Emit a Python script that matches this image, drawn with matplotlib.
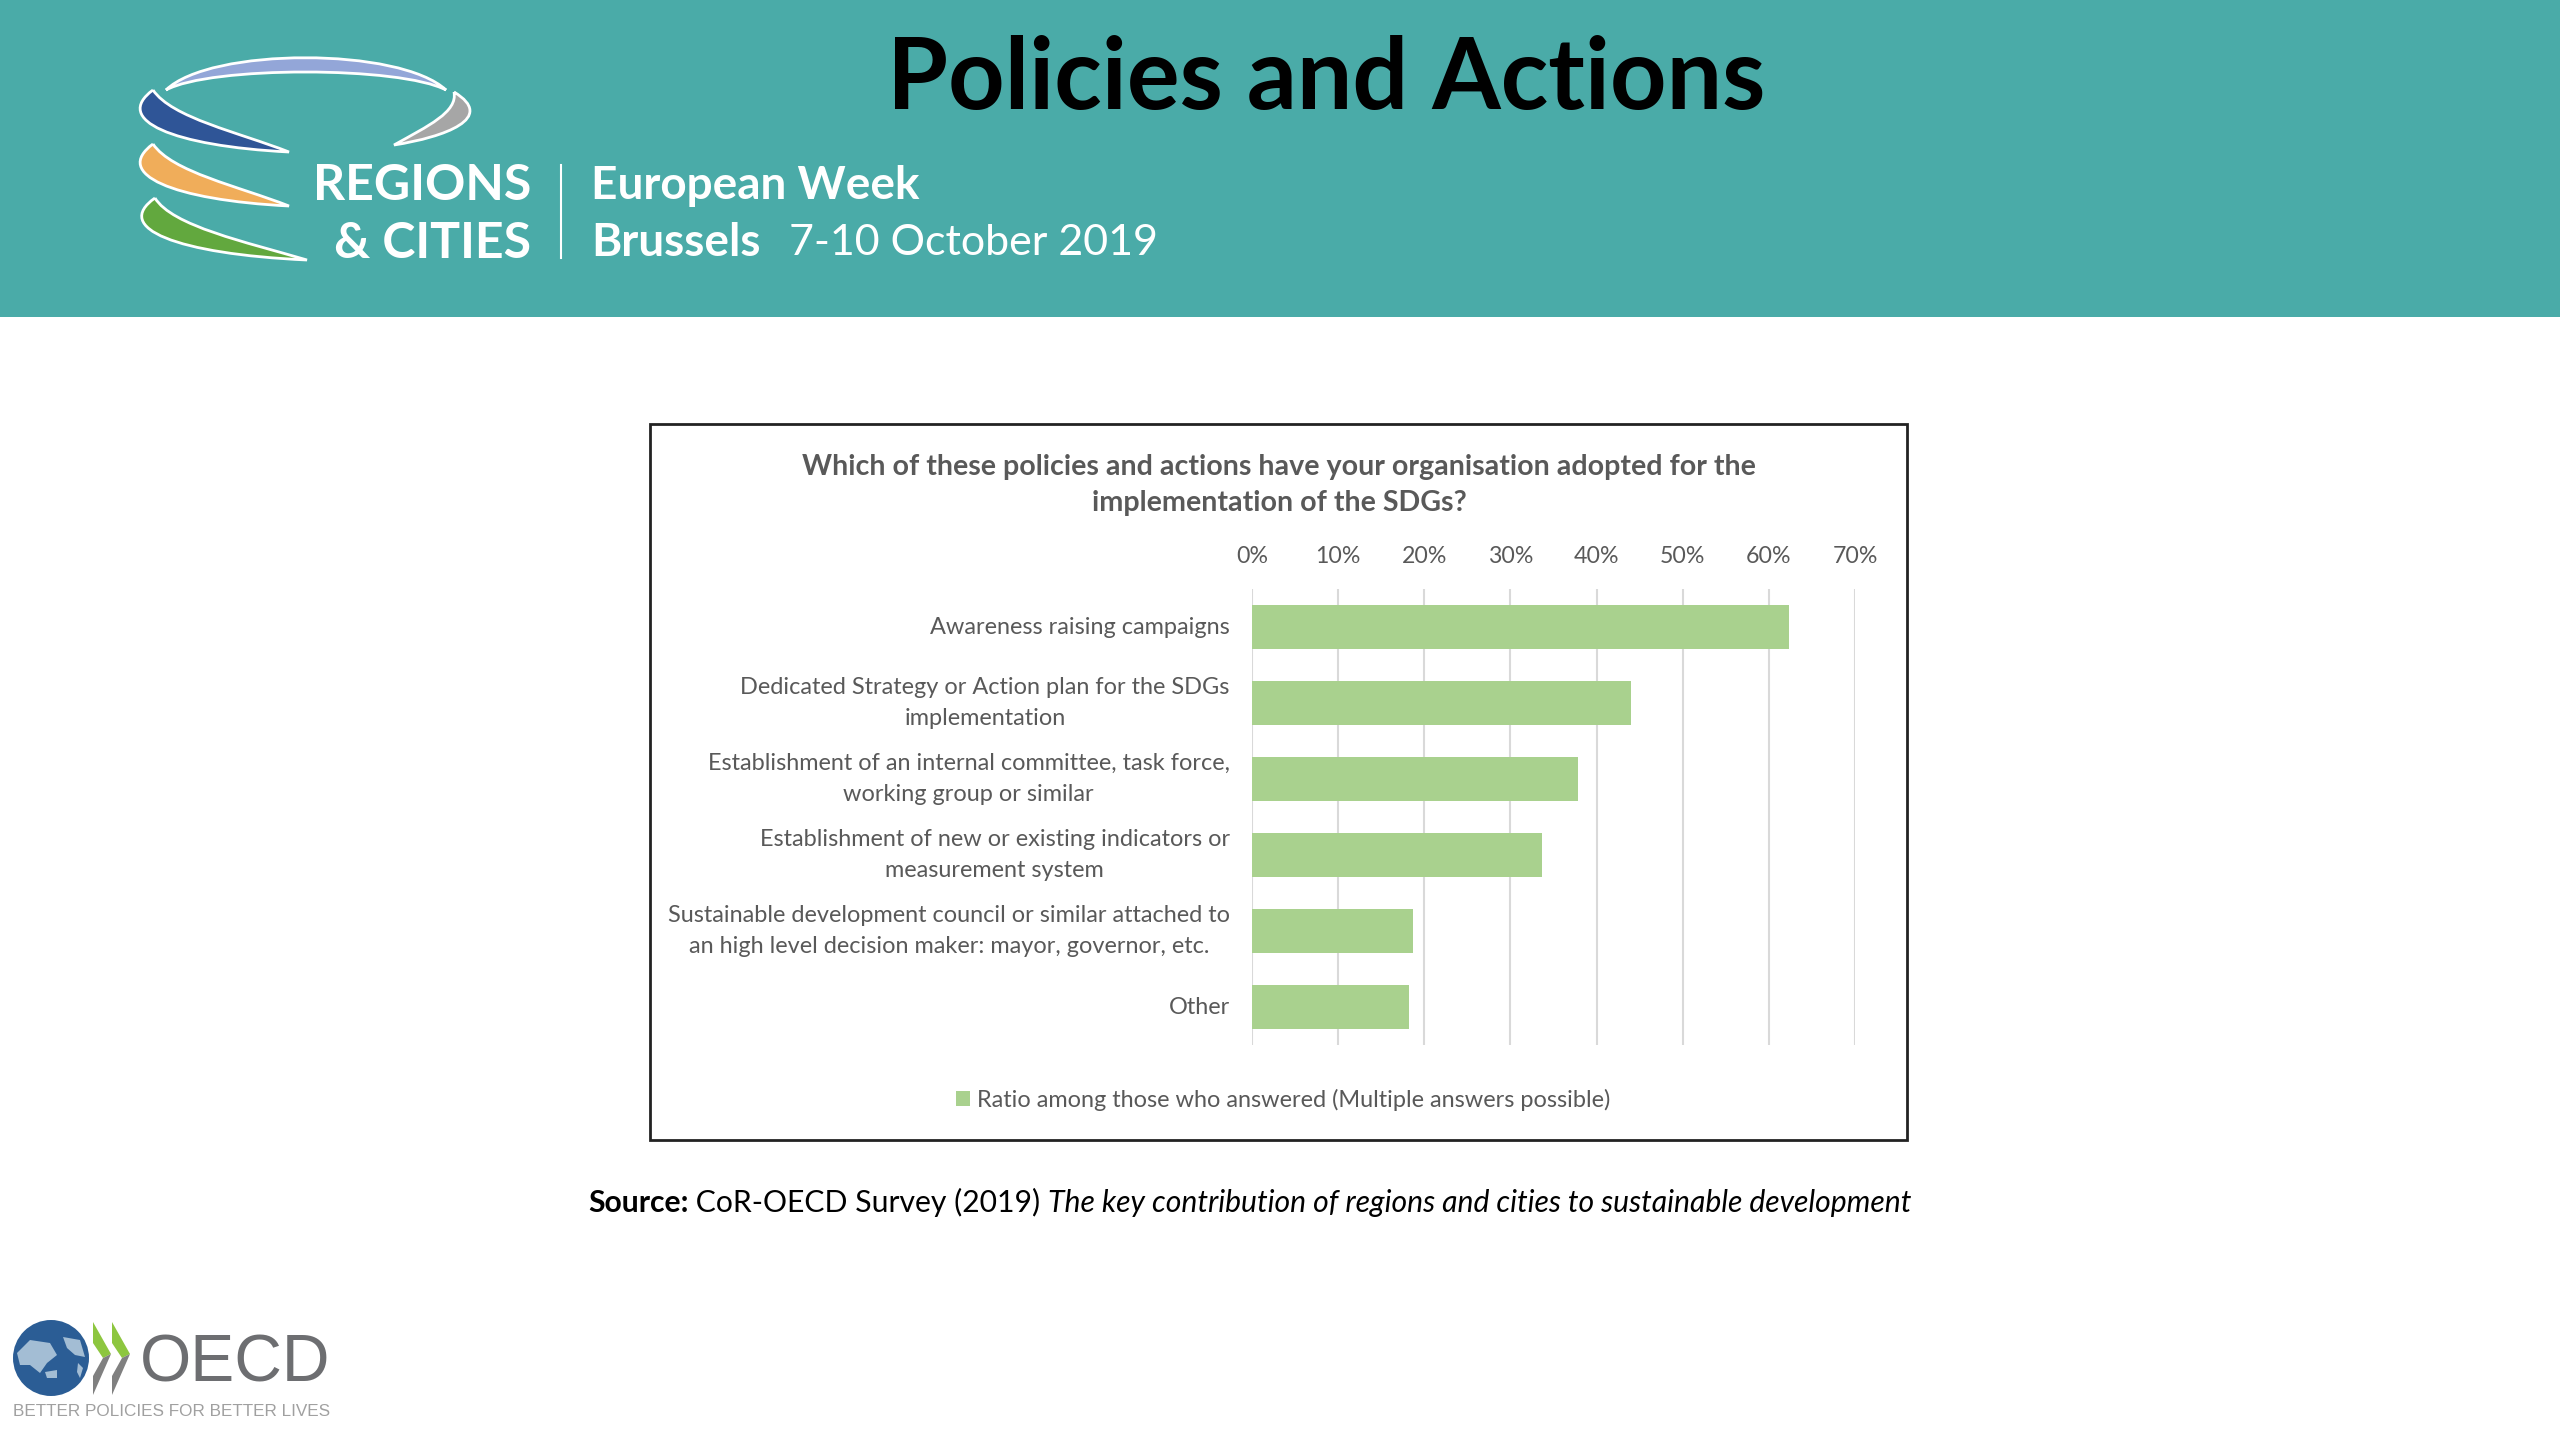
import numpy as np
import matplotlib
matplotlib.use('Agg')
import matplotlib.pyplot as plt
from matplotlib.patches import Rectangle, PathPatch, Polygon, Circle
from matplotlib.path import Path

plt.rcParams['font.family'] = ['Lato', 'DejaVu Sans']

# Chart data
categories = ["Awareness raising campaigns",
              "Dedicated Strategy or Action plan for the SDGs\nimplementation",
              "Establishment of an internal committee, task force,\nworking group or similar",
              "Establishment of new or existing indicators or\nmeasurement system",
              "Sustainable development council or similar attached to\nan high level decision maker: mayor, governor, etc.",
              "Other"]
ratio = [62.3, 44.0, 37.9, 33.7, 18.7, 18.2]
x_ticks = [0, 10, 20, 30, 40, 50, 60, 70]
x_tick_labels = ['0%', '10%', '20%', '30%', '40%', '50%', '60%', '70%']
legend_label = "Ratio among those who answered (Multiple answers possible)"
chart_title = "Which of these policies and actions have your organisation adopted for the\nimplementation of the SDGs?"

W, H = 2560, 1440
teal = '#4aaba8'
text_grey = '#595959'
bar_green = '#a9d18e'

fig = plt.figure(figsize=(W / 100, H / 100), dpi=100, facecolor='white')

# Full page axes in pixels, for the slide furniture
page = fig.add_axes([0, 0, 1, 1])
page.set_xlim(0, W)
page.set_ylim(H, 0)
page.axis('off')

page.add_patch(Rectangle((0, 0), W, 317, facecolor=teal, edgecolor='none'))
page.text(1326, 80, "Policies and Actions", fontsize=71, fontweight='bold', color='black',
          ha='center', va='center')


def swoosh(tip, c1, c2, end, c3, c4, color):
    # Outer edge from tip to end, inner edge back again
    verts = [tip, c1, c2, end, c3, c4, tip]
    codes = [Path.MOVETO] + [Path.CURVE4] * 6
    page.add_patch(PathPatch(Path(verts, codes), facecolor=color, edgecolor='white', lw=2))


swoosh((166, 90), (210, 47), (400, 47), (446, 90), (400, 66), (210, 66), '#93a6d8')
swoosh((153, 90), (112, 120), (172, 146), (289, 152), (238, 132), (172, 118), '#2f5597')
swoosh((454, 92), (497, 118), (445, 137), (394, 145), (428, 126), (458, 112), '#a6a6a6')
swoosh((153, 144), (112, 174), (172, 200), (289, 206), (238, 186), (172, 172), '#f0ad5a')
swoosh((155, 198), (112, 228), (176, 254), (307, 260), (246, 242), (172, 226), '#62a83e')

page.text(531, 186, "REGIONS", fontsize=36, fontweight='bold', color='white', ha='right', va='center')
page.text(531, 243, "& CITIES", fontsize=36, fontweight='bold', color='white', ha='right', va='center')
page.plot([561, 561], [165, 258], color='white', lw=1.5)
page.text(591, 186, "European Week", fontsize=33, fontweight='bold', color='white', ha='left', va='center')
page.text(591, 243, "Brussels", fontsize=33, fontweight='bold', color='white', ha='left', va='center')
page.text(789, 243, "7-10 October 2019", fontsize=31, color='white', ha='left', va='center')

# Chart frame
page.add_patch(Rectangle((650, 424), 1257, 716, facecolor='white', edgecolor='#222222', lw=2))
page.text(1279, 485, chart_title, fontsize=20.6, fontweight='bold', color=text_grey,
          ha='center', va='center', linespacing=1.52)

# Source line, pieces follow one another
src = page.text(588, 1203, "Source:", fontsize=21.7, fontweight='bold', color='black', va='center')
src2 = page.annotate(" CoR-OECD Survey (2019) ", xy=(1, 0), xycoords=src, va='bottom', fontsize=21.7, color='black')
page.annotate("The key contribution of regions and cities to sustainable development", xy=(1, 0),
              xycoords=src2, va='bottom', fontsize=21.7, style='italic', color='black')

# OECD logo
page.add_patch(Circle((51, 1358), 38, facecolor='#2b5d95', edgecolor='none'))
land = [[(17, 1353), (30, 1340), (50, 1343), (57, 1355), (47, 1363), (40, 1373), (30, 1365), (20, 1365)],
        [(63, 1337), (80, 1340), (85, 1357), (75, 1355), (67, 1348)],
        [(45, 1372), (57, 1370), (57, 1378), (47, 1378)],
        [(78, 1363), (83, 1368), (80, 1378), (77, 1372)]]
for pts in land:
    page.add_patch(Polygon(pts, facecolor='#a3bdd4', edgecolor='none'))
for dx in (0, 19):
    page.add_patch(Polygon([(93 + dx, 1322), (111 + dx, 1354), (103 + dx, 1358), (93 + dx, 1343)],
                           facecolor='#8dc63f', edgecolor='none'))
    page.add_patch(Polygon([(111 + dx, 1354), (93 + dx, 1395), (93 + dx, 1376), (103 + dx, 1358)],
                           facecolor='#808080', edgecolor='none'))
page.text(140, 1364, "OECD", fontsize=47.5, family='Liberation Sans', color='#6d6e71', ha='left', va='center')
page.text(13, 1411, "BETTER POLICIES FOR BETTER LIVES", fontsize=12.35, family='Liberation Sans',
          color='#a0a0a0', ha='left', va='center')

# Bar chart
ax = fig.add_axes([1252 / W, (H - 1045) / H, 603 / W, 456 / H])
ax.patch.set_alpha(0)
y = np.arange(len(categories))
ax.barh(y, ratio, height=0.58, color=bar_green, zorder=3, label=legend_label)
ax.set_xlim(0, 70)
ax.set_ylim(len(categories) - 0.5, -0.5)
ax.set_xticks(x_ticks)
ax.set_xticklabels(x_tick_labels)
ax.set_yticks(y)
ax.set_yticklabels(categories, multialignment='center', linespacing=1.55, va='center')
ax.xaxis.tick_top()
ax.tick_params(axis='x', length=0, pad=16, labelsize=16.7, labelcolor=text_grey)
ax.tick_params(axis='y', length=0, pad=16, labelsize=16.9, labelcolor=text_grey)
ax.grid(axis='x', color='#d9d9d9', lw=1.5, zorder=0)
for s in ax.spines.values():
    s.set_visible(False)

ax.legend(loc='center', bbox_to_anchor=(1283 / W, (H - 1100) / H), bbox_transform=fig.transFigure,
          frameon=False, fontsize=16.9, labelcolor=text_grey, handlelength=0.6, handleheight=0.6,
          handletextpad=0.3)

fig.savefig('out.png', dpi=100)
